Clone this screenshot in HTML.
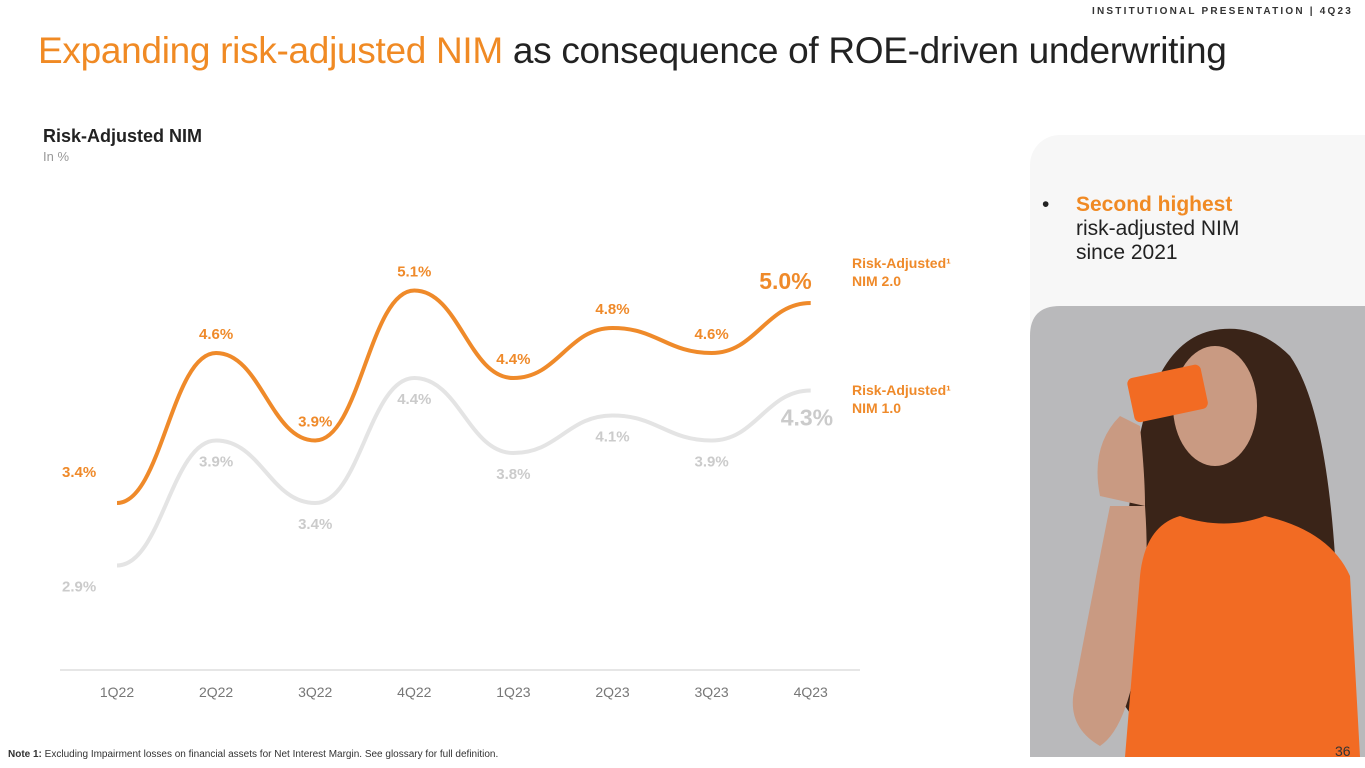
<!DOCTYPE html>
<html><head><meta charset="utf-8"><style>
body{margin:0;width:1365px;height:768px;overflow:hidden;background:#fff;font-family:"Liberation Sans","DejaVu Sans",sans-serif;position:relative}
.abs{position:absolute}
</style></head><body>
<div class="abs" style="right:12px;top:6px;font-size:10px;letter-spacing:2.2px;font-weight:bold;color:#333">INSTITUTIONAL PRESENTATION | 4Q23</div>
<div class="abs" style="left:38px;top:30px;font-size:37px;color:#222;letter-spacing:-0.3px;white-space:nowrap"><span style="color:#f08a24">Expanding risk-adjusted NIM</span> as consequence of ROE-driven underwriting</div>
<div class="abs" style="left:43px;top:126px;font-size:18px;font-weight:bold;color:#222">Risk-Adjusted NIM</div>
<div class="abs" style="left:43px;top:149px;font-size:13px;color:#999">In %</div>
<div class="abs" style="left:1030px;top:135px;width:335px;height:622px;background:#f7f7f7;border-radius:30px 0 0 0"></div>
<div class="abs" style="left:1042px;top:193px;font-size:21px;line-height:24px;color:#222">
<span style="position:absolute;left:0;top:0">•</span>
<div style="margin-left:34px"><b style="color:#f08a24">Second highest</b><br>risk-adjusted NIM<br>since 2021</div></div>
<svg class="abs" style="left:1030px;top:306px" width="335" height="451">
<path d="M30 0 H335 V451 H0 V30 Q0 0 30 0Z" fill="#b9b9bb"/>
<path d="M180 25 Q120 40 105 160 Q85 280 95 400 L130 451 H315 Q335 330 305 250 Q295 100 260 50 Q225 15 180 25Z" fill="#3a2418"/>
<ellipse cx="185" cy="100" rx="42" ry="60" fill="#c99a82"/>
<path d="M80 200 Q60 300 45 380 Q35 420 70 440 Q100 420 110 330 Q120 270 115 200Z" fill="#c99a82"/>
<path d="M70 190 Q60 140 90 110 L110 120 Q115 170 115 200 Z" fill="#c99a82"/>
<rect x="100" y="65" width="75" height="45" rx="6" fill="#f26b23" transform="rotate(-12 137 87)"/>
<path d="M150 210 Q195 225 235 210 Q300 225 320 270 L330 451 H95 L110 270 Q115 220 150 210Z" fill="#f26b23"/>
<text x="305" y="450" font-size="14" fill="#333" font-family="Liberation Sans">36</text>
</svg>
<svg class="abs" style="left:0;top:0" width="1000" height="720" id="chart"></svg>
<div class="abs" style="left:8px;top:749px;font-size:10px;color:#333"><b>Note 1:</b> Excluding Impairment losses on financial assets for Net Interest Margin. See glossary for full definition.</div>
<script>
const categories=["1Q22","2Q22","3Q22","4Q22","1Q23","2Q23","3Q23","4Q23"];
const nim2=[3.4,4.6,3.9,5.1,4.4,4.8,4.6,5.0];
const nim1=[2.9,3.9,3.4,4.4,3.8,4.1,3.9,4.3];
const ns="http://www.w3.org/2000/svg";
const svg=document.getElementById('chart');
const x=i=>117+i*99.1;
const y=v=>503-(v-3.4)*125;
function mk(t,a){const e=document.createElementNS(ns,t);for(const k in a)e.setAttribute(k,a[k]);svg.appendChild(e);return e;}
function path(vals){let d=`M${x(0)},${y(vals[0])}`;for(let i=0;i<vals.length-1;i++){const x0=x(i),x1=x(i+1),c=(x1-x0)*0.45;d+=` C${x0+c},${y(vals[i])} ${x1-c},${y(vals[i+1])} ${x1},${y(vals[i+1])}`;}return d;}
const base=mk('line',{x1:60,x2:860,y1:670,y2:670,stroke:'#e6e6e6','stroke-width':2});


const l1=mk('path',{d:path(nim1),fill:'none',stroke:'#e4e4e4','stroke-width':4});


const l2=mk('path',{d:path(nim2),fill:'none',stroke:'#ef8a2a','stroke-width':4});


categories.forEach((c,i)=>{
 const t=mk('text',{x:x(i),y:697,'text-anchor':'middle','font-size':14,fill:'#777'});t.textContent=c;
 
 
 const last=i===categories.length-1;
 const a=mk('text',{x:last?x(i)+1:x(i),y:y(nim2[i])-(i===0?26:14),'text-anchor':last?'end':'middle','font-size':last?23:15,'font-weight':'bold',fill:'#ef8a2a'});
 if(i===0){a.setAttribute('text-anchor','start');a.setAttribute('x',x(i)-55);}
 a.textContent=nim2[i].toFixed(1)+'%';
 
 
 const b=mk('text',{x:last?x(i)-30:(i===0?x(i)-55:x(i)),y:y(nim1[i])+(last?35:26),'text-anchor':last?'start':(i===0?'start':'middle'),'font-size':last?23:15,'font-weight':'bold',fill:'#cbcbcb'});
 b.textContent=nim1[i].toFixed(1)+'%';
 
 
});
[["Risk-Adjusted¹",268],["NIM 2.0",286],["Risk-Adjusted¹",395],["NIM 1.0",413]].forEach(([s,yy])=>{
 const t=mk('text',{x:852,y:yy,'font-size':14,'font-weight':'bold',fill:'#ef8a2a'});t.textContent=s;
 
 
});
</script>
</body></html>
